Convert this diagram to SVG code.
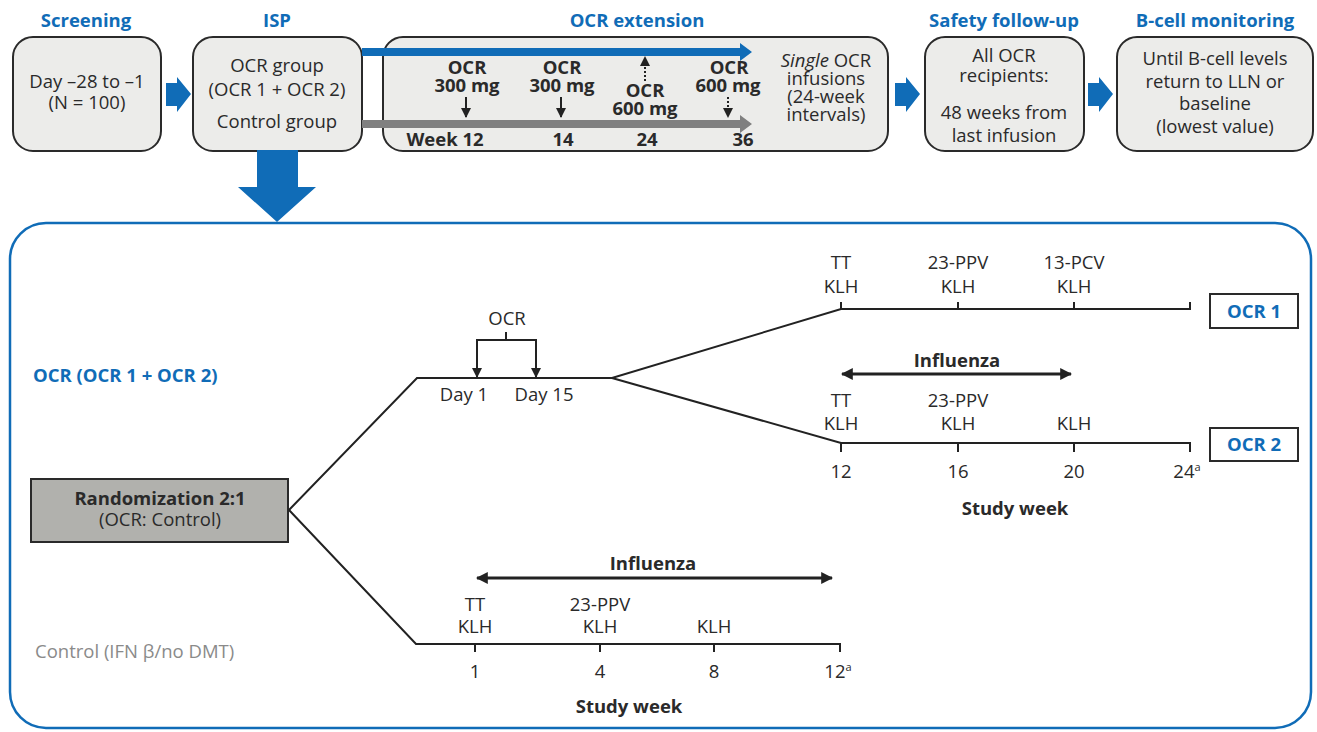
<svg xmlns="http://www.w3.org/2000/svg" width="1317" height="732" viewBox="0 0 1317 732">
<style>
text{font-family:"Open Sans","Liberation Sans",sans-serif;fill:#2a2a2a}
.t{font-size:18.5px;font-weight:bold;fill:#106cb7;text-anchor:middle}
.box{fill:#ececea;stroke:#2a2a2a;stroke-width:2}
.c{text-anchor:middle;font-size:18.5px}
.cb{text-anchor:middle;font-size:18.5px;font-weight:bold}
.s{text-anchor:middle;font-size:18.5px}
.sb{text-anchor:middle;font-size:18.5px;font-weight:bold}
.ln{stroke:#222;stroke-width:2;fill:none}
.blue{fill:#106cb7}
.dot{stroke:#222;stroke-width:2;stroke-dasharray:2 2;fill:none}
</style>
<defs>
<marker id="ah" viewBox="0 0 10 10" refX="9" refY="5" markerWidth="5" markerHeight="5" orient="auto-start-reverse" markerUnits="strokeWidth"><path d="M0,0 L10,5 L0,10 z" fill="#222"/></marker>
<marker id="ah2" viewBox="0 0 10 10" refX="9" refY="5" markerWidth="4" markerHeight="4" orient="auto-start-reverse" markerUnits="strokeWidth"><path d="M0,0 L10,5 L0,10 z" fill="#222"/></marker>
</defs>

<g id="titles">
<text class="t" x="86" y="27">Screening</text>
<text class="t" x="277" y="27">ISP</text>
<text class="t" x="637" y="27">OCR extension</text>
<text class="t" x="1004" y="27">Safety follow-up</text>
<text class="t" x="1215" y="27">B-cell monitoring</text>
</g>

<g id="screening">
<rect class="box" x="13" y="37" width="148" height="114" rx="20"/>
<text class="c" x="87" y="88">Day –28 to –1</text>
<text class="c" x="87" y="109">(N = 100)</text>
</g>

<g id="isp">
<rect class="box" x="193" y="37" width="169" height="114" rx="20"/>
<text class="c" x="277" y="72">OCR group</text>
<text class="c" x="277" y="96">(OCR 1 + OCR 2)</text>
<text class="c" x="277" y="128">Control group</text>
</g>

<g id="ocr-extension">
<rect class="box" x="383" y="37" width="505" height="114" rx="20"/>
<text class="cb" x="467" y="74">OCR</text>
<text class="cb" x="467" y="92">300 mg</text>
<text class="cb" x="562" y="74">OCR</text>
<text class="cb" x="562" y="92">300 mg</text>
<text class="cb" x="645" y="97">OCR</text>
<text class="cb" x="645" y="115">600 mg</text>
<text class="cb" x="729" y="74">OCR</text>
<text class="cb" x="728" y="92">600 mg</text>
<text class="cb" x="445" y="146">Week 12</text>
<text class="cb" x="563" y="146">14</text>
<text class="cb" x="647" y="146">24</text>
<text class="cb" x="743" y="146">36</text>
<text class="c" x="826" y="67"><tspan font-style="italic">Single</tspan> OCR</text>
<text class="c" x="826" y="85">infusions</text>
<text class="c" x="826" y="103">(24-week</text>
<text class="c" x="826" y="121">intervals)</text>
</g>

<g id="safety">
<rect class="box" x="925" y="37" width="159" height="114" rx="20"/>
<text class="c" x="1004" y="62">All OCR</text>
<text class="c" x="1004" y="82">recipients:</text>
<text class="c" x="1004" y="119">48 weeks from</text>
<text class="c" x="1004" y="142">last infusion</text>
</g>

<g id="bcell">
<rect class="box" x="1117" y="37" width="196" height="114" rx="20"/>
<text class="c" x="1215" y="65">Until B-cell levels</text>
<text class="c" x="1215" y="88">return to LLN or</text>
<text class="c" x="1215" y="110">baseline</text>
<text class="c" x="1215" y="133">(lowest value)</text>
</g>

<g id="frame">
<rect x="10" y="223" width="1301" height="505" rx="36" fill="none" stroke="#106cb7" stroke-width="2.5"/>
</g>

<g id="randomization">
<rect x="31" y="479" width="257" height="63" fill="#b1b1ad" stroke="#2a2a2a" stroke-width="2"/>
<text class="sb" x="160" y="505">Randomization 2:1</text>
<text class="s" x="160" y="526">(OCR: Control)</text>
</g>

<g id="group-labels">
<text x="33" y="382" font-size="18.5" font-weight="bold" style="fill:#106cb7">OCR (OCR 1 + OCR 2)</text>
<text x="35" y="658" font-size="18.5" style="fill:#8a8a8a">Control (IFN β/no DMT)</text>
</g>

<g id="ocr1">
<rect x="1210" y="294" width="88" height="34" fill="#fff" stroke="#2a2a2a" stroke-width="2"/>
<text class="sb" x="1254" y="318" style="fill:#106cb7">OCR 1</text>
</g>
<g id="ocr2">
<rect x="1210" y="428" width="88" height="33" fill="#fff" stroke="#2a2a2a" stroke-width="2"/>
<text class="sb" x="1254" y="451" style="fill:#106cb7">OCR 2</text>
</g>

<g id="timeline-labels">
<text class="s" x="507" y="325">OCR</text>
<text class="s" x="464" y="401">Day 1</text>
<text class="s" x="544" y="401">Day 15</text>
<text class="s" x="841" y="269">TT</text>
<text class="s" x="841" y="293">KLH</text>
<text class="s" x="958" y="269">23-PPV</text>
<text class="s" x="958" y="293">KLH</text>
<text class="s" x="1074" y="269">13-PCV</text>
<text class="s" x="1074" y="293">KLH</text>
<text class="sb" x="957" y="367">Influenza</text>
<text class="s" x="841" y="407">TT</text>
<text class="s" x="841" y="430">KLH</text>
<text class="s" x="958" y="407">23-PPV</text>
<text class="s" x="958" y="430">KLH</text>
<text class="s" x="1074" y="430">KLH</text>
<text class="s" x="841" y="478">12</text>
<text class="s" x="958" y="478">16</text>
<text class="s" x="1074" y="478">20</text>
<text class="s" x="1187" y="478">24<tspan font-size="11" dy="-7">a</tspan></text>
<text class="sb" x="1015" y="515">Study week</text>
<text class="sb" x="653" y="570">Influenza</text>
<text class="s" x="475" y="611">TT</text>
<text class="s" x="475" y="633">KLH</text>
<text class="s" x="600" y="611">23-PPV</text>
<text class="s" x="600" y="633">KLH</text>
<text class="s" x="714" y="633">KLH</text>
<text class="s" x="475" y="678">1</text>
<text class="s" x="600" y="678">4</text>
<text class="s" x="714" y="678">8</text>
<text class="s" x="838" y="678">12<tspan font-size="11" dy="-7">a</tspan></text>
<text class="sb" x="629" y="713">Study week</text>
</g>

<g id="connectors">
<path class="blue" d="M166,83 H177 V77 L191,94 L177,112 V106 H166 z"/>
<path class="blue" d="M895,83 H906 V77 L920,94 L906,112 V106 H895 z"/>
<path class="blue" d="M1088,83 H1099 V77 L1113,94 L1099,112 V106 H1088 z"/>
<path class="blue" d="M257,150 H298 V187 H316 L277,222 L238,187 H257 z"/>
<path class="blue" d="M362,48 H740 V43 L752,52 L740,61 V56 H362 z"/>
<path fill="#808080" d="M362,120 H740 V115 L752,124 L740,133 V128 H362 z"/>
<line class="ln" x1="466" y1="97" x2="466" y2="117" marker-end="url(#ah)"/>
<line class="ln" x1="561" y1="97" x2="561" y2="117" marker-end="url(#ah)"/>
<line class="dot" x1="645" y1="81" x2="645" y2="57" marker-end="url(#ah)"/>
<line class="dot" x1="728" y1="97" x2="728" y2="117" marker-end="url(#ah)"/>
<path class="ln" d="M506,332 V340 M477,340 H536"/>
<line class="ln" x1="477" y1="339" x2="477" y2="377" marker-end="url(#ah)"/>
<line class="ln" x1="536" y1="339" x2="536" y2="377" marker-end="url(#ah)"/>
<path class="ln" d="M289,510 L417,378 H612 L841,309 H1190 V302"/>
<path class="ln" d="M612,378 L841,443 H1190 V452"/>
<path class="ln" d="M289,510 L416,644 H840 V652"/>
<path class="ln" d="M841,309 V302 M958,309 V302 M1074,309 V302"/>
<path class="ln" d="M841,443 V452 M958,443 V452 M1074,443 V452"/>
<path class="ln" d="M475,644 V652 M600,644 V652 M714,644 V652"/>
<line x1="842" y1="374" x2="1071" y2="374" stroke="#222" stroke-width="3" marker-start="url(#ah2)" marker-end="url(#ah2)"/>
<line x1="477" y1="578" x2="832" y2="578" stroke="#222" stroke-width="3" marker-start="url(#ah2)" marker-end="url(#ah2)"/>
</g>
</svg>
